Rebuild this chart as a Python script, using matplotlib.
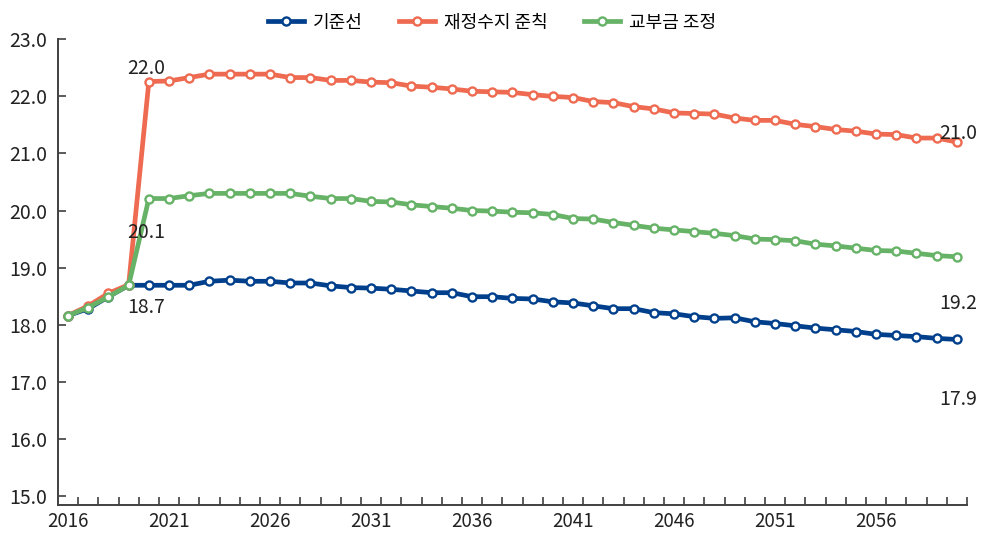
import matplotlib
matplotlib.use("Agg")
import matplotlib.pyplot as plt
import numpy as np

plt.rcParams['font.family'] = ['Noto Sans CJK KR', 'DejaVu Sans']
plt.rcParams['font.weight'] = 'light'

LINE_WIDTH = 3.4
AXIS_COLOR = "#404040"
TEXT_COLOR = "#222222"

years = list(range(2016, 2061))

baseline = [18.16, 18.28, 18.49, 18.69,
            18.69, 18.69, 18.69, 18.76, 18.78, 18.76, 18.76, 18.73, 18.73,
            18.68, 18.65, 18.64, 18.62, 18.59, 18.56, 18.56, 18.49,
            18.49, 18.46, 18.45, 18.40, 18.38, 18.33, 18.28, 18.28, 18.21,
            18.19, 18.14, 18.11, 18.12, 18.05, 18.02, 17.98, 17.94, 17.91,
            17.88, 17.83, 17.81, 17.79, 17.76, 17.74]

fiscal_rule = [18.16, 18.33, 18.55, 18.70,
               22.26, 22.27, 22.33, 22.39, 22.39, 22.39, 22.39, 22.33, 22.33,
               22.28, 22.28, 22.25, 22.24, 22.18, 22.16, 22.13, 22.09, 22.08,
               22.07, 22.03, 22.00, 21.98, 21.91, 21.89, 21.82, 21.78, 21.71,
               21.70, 21.69, 21.62, 21.58, 21.58, 21.51, 21.47, 21.42, 21.39,
               21.34, 21.33, 21.27, 21.27, 21.20]

grant_adjust = [18.16, 18.30, 18.49, 18.69,
                20.21, 20.21, 20.26, 20.30, 20.30, 20.30, 20.30, 20.30, 20.25,
                20.21, 20.21, 20.16, 20.15, 20.10, 20.07, 20.04, 20.00,
                19.99, 19.97, 19.96, 19.93, 19.86, 19.85, 19.79, 19.74, 19.69,
                19.66, 19.63, 19.60, 19.56, 19.50, 19.49, 19.47, 19.41, 19.38,
                19.34, 19.30, 19.29, 19.25, 19.21, 19.19]

series_names = ["기준선", "재정수지 준칙", "교부금 조정"]
series_colors = ["#003F8C", "#EE6A50", "#66B266"]

# value labels: (text, year index, y position)
value_labels = [("22.0", 3.85, 22.49), ("20.1", 3.85, 19.61), ("18.7", 3.85, 18.30),
                ("21.0", 44.05, 21.35), ("19.2", 44.05, 18.37), ("17.9", 44.05, 16.68)]

fig = plt.figure(figsize=(9.84, 5.35), dpi=100)
ax = fig.add_axes([0.0589, 0.0561, 0.9238, 0.8704])

x = np.arange(len(years))
for values, name, color in zip([baseline, fiscal_rule, grant_adjust], series_names, series_colors):
    ax.plot(x, values, color=color, linewidth=LINE_WIDTH, marker="o", markersize=5.8,
            markerfacecolor="white", markeredgecolor=color, markeredgewidth=1.7, label=name)

for text, xi, yv in value_labels:
    ax.text(xi, yv, text, ha="center", va="center", fontsize=14, color=TEXT_COLOR,
            clip_on=False)

ax.set_xlim(-0.5, len(years) - 0.5)
ax.set_ylim(14.84, 23.0)

ax.set_yticks(np.arange(15, 24, 1))
ax.set_yticklabels([f"{v:.1f}" for v in range(15, 24)])
ax.set_xticks(x[::5])
ax.set_xticklabels([str(y) for y in years[::5]])
ax.set_xticks(np.arange(0.5, len(years), 1), minor=True)

ax.tick_params(axis="y", direction="in", length=6, width=1.2, color=AXIS_COLOR,
               labelsize=14, pad=8, labelcolor=TEXT_COLOR)
ax.tick_params(axis="x", which="major", length=0, labelsize=13.5, pad=4,
               labelcolor=TEXT_COLOR)
ax.tick_params(axis="x", which="minor", direction="in", length=6, width=1.2,
               color=AXIS_COLOR)

for side in ["top", "right"]:
    ax.spines[side].set_visible(False)
for side in ["left", "bottom"]:
    ax.spines[side].set_linewidth(1.4)
    ax.spines[side].set_color(AXIS_COLOR)

fig.legend(loc="upper center", bbox_to_anchor=(0.5, 1.005), ncol=3, frameon=False,
           fontsize=13, handlelength=2.0, handletextpad=0.5, columnspacing=2.0)

fig.savefig("out.png", dpi=100)
